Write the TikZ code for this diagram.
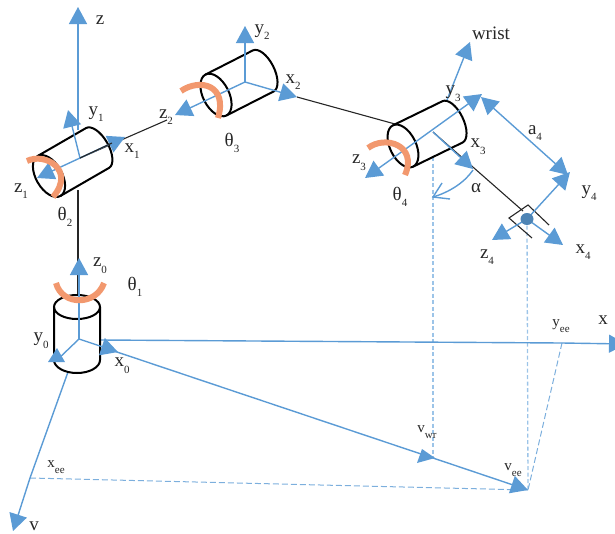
\documentclass[tikz,border=0pt]{standalone}
\usepackage{fontspec}
\setmainfont{Liberation Serif}
\usetikzlibrary{arrows.meta}
\definecolor{ablue}{HTML}{5B9BD5}
\definecolor{lblue}{HTML}{9CC4E8}
\definecolor{orng}{HTML}{F2986E}
\definecolor{ink}{HTML}{262626}
\newcommand\lsub[1]{\raisebox{-0.35em}{\fontsize{11}{12}\selectfont #1}}
\tikzset{
  x=1pt,y=1pt,
  axisln/.style={draw=ablue,line width=1.4pt},
  arr/.style={axisln,-{Triangle[length=17pt,width=18pt,fill=ablue]}},
  dsh/.style={draw=lblue,line width=1.3pt,dash pattern=on 4pt off 2.5pt},
  dshb/.style={draw=ablue!80,line width=1pt,dash pattern=on 6pt off 3pt},
  cylln/.style={draw=black,line width=2pt},
  rot/.style={draw=orng,line width=6pt},
  link/.style={draw=ink,line width=1.1pt},
  lab/.style={text=ink,font=\fontsize{19}{21}\selectfont,inner sep=0pt},
  small/.style={text=ink,font=\fontsize{15}{17}\selectfont,inner sep=0pt},
}
\begin{document}
\begin{tikzpicture}
\useasboundingbox (0,0) rectangle (615,-533);
\clip (0,0) rectangle (615,-533);
% coordinates
\coordinate (o0) at (79,-339);
\coordinate (o1) at (80,-158);
\coordinate (o2) at (245,-82);
\coordinate (o3) at (433,-132);
\coordinate (o4) at (527,-219);
\coordinate (vee) at (528,-490);
\coordinate (vwr) at (433,-458);
\coordinate (xe) at (30,-478);
\coordinate (ye) at (562,-343);
% dashed projections
\draw[dsh] (433,-157) -- (vwr);
\draw[dsh] (o4) -- (vee);
\draw[dshb] (ye) -- (vee);
\draw[dshb] (xe) -- (vee);
% links
\draw[draw=ink,line width=2.2pt] (78,-190) -- (78,-296);
\draw[link] (o1) -- (167,-120);
\draw[link] (297,-97) -- (395,-124);
\draw[link] (o3) -- (523,-211);
% base axes
\draw[axisln] (101,-340) -- (ye);
\draw[arr] (ye) -- (626,-344);
\draw[axisln] (68,-372) -- (xe);
\draw[arr] (xe) -- (13,-531);
\draw[axisln] (108,-349) -- (vwr);
\path[fill=ablue] (vwr) ++(2,0) -- (422,-449) -- (417,-463) -- cycle;
\draw[arr] (vwr) -- (vee);
% base cylinder
\draw[cylln] (77,-307) ellipse [x radius=23pt,y radius=12pt];
\draw[cylln] (54,-307) -- (54,-360) arc [start angle=180,end angle=360,x radius=23pt,y radius=13pt] -- (100,-307);
\draw[axisln] (o0) -- (79,-272);
\draw[arr] (79,-272) -- (79,-258);
\draw[axisln] (o0) -- (56,-361);
\path[fill=ablue] (57,-348) -- (48,-362) -- (65,-362) -- cycle;
\draw[arr] (o0) -- (118,-352);
\draw[rot] (56,-283) .. controls (62,-306) and (96,-306) .. (104,-283);
% cylinder 1
\begin{scope}[shift={(49,-176)},rotate=30]
\draw[cylln] (0,0) ellipse [x radius=13pt,y radius=23pt];
\draw[cylln] (0,23) -- (56,23) arc [start angle=90,end angle=-90,x radius=11pt,y radius=23pt] -- (0,-23);
\end{scope}
\draw[axisln] (78,-130) -- (78,-20);
\draw[arr] (78,-30) -- (78,-7);
\draw[arr] (o1) -- (68,-110);
\draw[arr] (o1) -- (125,-137);
\draw[arr] (o1) -- (37,-178);
\draw[link] (o1) -- (112,-143);
\draw[rot] (27,-161) .. controls (45,-152) and (76,-170) .. (53,-197);
% cylinder 2
\begin{scope}[shift={(216,-95)},rotate=27]
\draw[cylln] (0,0) ellipse [x radius=13pt,y radius=23pt];
\draw[cylln] (0,23) -- (53,23) arc [start angle=90,end angle=-90,x radius=11pt,y radius=23pt] -- (0,-23);
\end{scope}
\draw[arr] (o2) -- (245,-26);
\draw[arr] (o2) -- (297,-97);
\draw[arr] (o2) -- (175,-115);
\draw[rot] (181,-91) .. controls (200,-78) and (228,-85) .. (218,-118);
% cylinder 3
\begin{scope}[shift={(403,-146)},rotate=26]
\draw[cylln] (0,0) ellipse [x radius=13pt,y radius=23pt];
\draw[cylln] (0,23) -- (55,23) arc [start angle=90,end angle=-90,x radius=11pt,y radius=23pt] -- (0,-23);
\end{scope}
\draw[arr] (447,-100) -- (470,-42);
\draw[arr] (414,-143) -- (365,-178);
\draw[arr] (414,-143) -- (482,-94);
\draw[arr] (o3) -- (473,-169);
\draw[draw=ablue,line width=1.4pt,{Triangle[length=17pt,width=18pt,fill=ablue]}-{Triangle[length=17pt,width=18pt,fill=ablue]}] (481,-97) -- (568,-175);
\draw[rot] (368,-148) .. controls (385,-135) and (418,-145) .. (405,-175);
% alpha arc
\draw[axisln] (473,-170) .. controls (465,-182) and (450,-192) .. (433,-197);
\draw[axisln] (450,-199) -- (433,-197) -- (442,-183);
% end effector
\draw[draw=ink,line width=1.1pt] (549,-225) -- (528,-205) -- (509,-218) -- (532,-238);
\draw[arr] (o4) -- (570,-172);
\draw[arr] (o4) -- (563,-245);
\draw[arr] (o4) -- (492,-240);
\path[fill=ablue!85!black] (o4) ellipse [x radius=6.5pt,y radius=6pt];
% labels
\node[lab] (lz) at (100,-20) {z};
\node[lab] (ly1) at (96,-114) {y\lsub{1}};
\node[lab] (lx1) at (132,-151) {x\lsub{1}};
\node[lab] (lz1) at (21,-191) {z\lsub{1}};
\node[lab] (lt2) at (65,-217) {θ\lsub{2}};
\node[lab] (lz2) at (166,-117) {z\lsub{2}};
\node[lab] (lt3) at (232,-143) {θ\lsub{3}};
\node[lab] (ly2) at (262,-32) {y\lsub{2}};
\node[lab] (lx2) at (293,-82) {x\lsub{2}};
\node[lab] (lz0) at (100,-266) {z\lsub{0}};
\node[lab] (lt1) at (135,-287) {θ\lsub{1}};
\node[lab] (ly0) at (41,-341) {y\lsub{0}};
\node[lab] (lx0) at (122,-366) {x\lsub{0}};
\node[lab] (lwr) at (491,-33) {wrist};
\node[lab] (ly3) at (453,-94) {y\lsub{3}};
\node[lab] (lx3) at (478,-147) {x\lsub{3}};
\node[lab] (lz3) at (359,-163) {z\lsub{3}};
\node[lab] (lt4) at (400,-197) {θ\lsub{4}};
\node[lab] (la4) at (535,-133) {a\lsub{4}};
\node[lab] (ly4) at (589,-193) {y\lsub{4}};
\node[lab] (lx4) at (583,-252) {x\lsub{4}};
\node[lab] (lz4) at (487,-257) {z\lsub{4}};
\node[lab] (lal) at (476,-188) {α};
\node[lab] (lxax) at (603,-320) {x};
\node[lab,anchor=base] (lyax) at (34,-530) {v};
\node[small] (lxee) at (56,-467) {x\lsub{ee}};
\node[small] (lyee) at (561,-326) {y\lsub{ee}};
\node[small] (lvwr) at (427,-432) {v\lsub{wr}};
\node[small] (lvee) at (513,-470) {v\lsub{ee}};
\end{tikzpicture}
\end{document}
